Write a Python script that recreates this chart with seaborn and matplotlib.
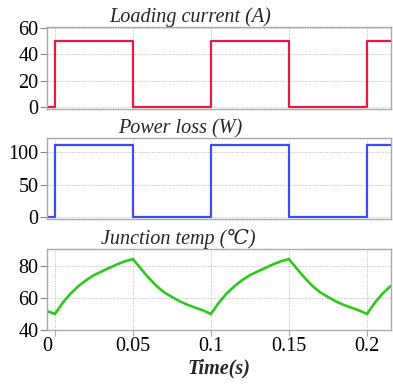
import matplotlib
matplotlib.use("Agg")
import matplotlib.pyplot as plt
import matplotlib.transforms as mtransforms
import seaborn as sns
import pandas as pd

# Switching waveform: load steps on/off every 50 ms
step_time = [-0.005, 0.0, 0.05, 0.10, 0.15, 0.20, 0.2154]
current_a = [0, 50, 0, 50, 0, 50, 50]
power_w = [0, 111, 0, 111, 0, 111, 111]

# Junction temperature samples (every 5 ms)
temp_time = [-0.005, 0.000, 0.005, 0.010, 0.015, 0.020, 0.025, 0.030, 0.035,
             0.040, 0.045, 0.050, 0.055, 0.060, 0.065, 0.070, 0.075, 0.080,
             0.085, 0.090, 0.095, 0.100, 0.105, 0.110, 0.115, 0.120, 0.125,
             0.130, 0.135, 0.140, 0.145, 0.150, 0.155, 0.160, 0.165, 0.170,
             0.175, 0.180, 0.185, 0.190, 0.195, 0.200, 0.205, 0.210, 0.215]
temp_c = [51.8, 50.0, 57.0, 62.7, 67.3, 71.1, 74.2, 76.5, 78.8,
          81.0, 82.9, 84.2, 78.3, 72.6, 67.5, 63.5, 60.6, 57.9,
          55.7, 53.9, 52.2, 50.0, 57.0, 62.7, 67.3, 71.1, 74.2,
          76.5, 78.8, 81.0, 82.9, 84.2, 78.3, 72.6, 67.5, 63.5,
          60.6, 57.9, 55.7, 53.9, 52.2, 50.0, 57.0, 62.7, 67.3]

x_ticks = [0.0, 0.05, 0.10, 0.15, 0.20]
x_tick_labels = ["0", "0.05", "0.1", "0.15", "0.2"]

titles = ["Loading current (A)", "Power loss (W)", "Junction temp (\u2103)"]

sns.set_style("white")
serif = ["Liberation Serif", "DejaVu Serif"]
plt.rcParams["font.family"] = serif

fig = plt.figure(figsize=(3.93, 3.92), dpi=100)
W, H = 393, 392
left, right = 47, 391
panels = [(27, 109), (138, 219), (249, 330)]
axes = []
for top, bottom in panels:
    ax = fig.add_axes([left / W, 1 - bottom / H, (right - left) / W, (bottom - top) / H])
    axes.append(ax)

step_df = pd.DataFrame({"t": step_time, "current": current_a, "power": power_w})
temp_df = pd.DataFrame({"t": temp_time, "temp": temp_c})

sns.lineplot(data=step_df, x="t", y="current", ax=axes[0], color="#e8183e",
             linewidth=1.6, drawstyle="steps-post")
sns.lineplot(data=step_df, x="t", y="power", ax=axes[1], color="#3a4cf5",
             linewidth=1.6, drawstyle="steps-post")
sns.lineplot(data=temp_df, x="t", y="temp", ax=axes[2], color="#2ec81e",
             linewidth=1.9)

ylims = [(-1.3, 60.5), (-2.6, 121), (40, 90.5)]
yticks = [[0, 20, 40, 60], [0, 50, 100], [40, 60, 80]]
title_x = [0.416, 0.386, 0.382]

for i, ax in enumerate(axes):
    ax.set_xlim(-0.0051, 0.2154)
    ax.set_ylim(*ylims[i])
    ax.set_yticks(yticks[i])
    ax.set_xticks(x_ticks)
    ax.set_xlabel("")
    ax.set_ylabel("")
    ax.grid(True, linestyle=(0, (1, 1.5)), color="#b8b8b8", linewidth=0.7)
    for s in ax.spines.values():
        s.set_color("#aaaaaa")
        s.set_linewidth(1.0)
    ax.tick_params(axis="y", which="both", left=True, length=5, width=0.8,
                   color="#888888", pad=1, labelsize=14.5, labelcolor="black")
    ax.tick_params(axis="x", bottom=(i == 2), length=4, width=0.8,
                   color="#aaaaaa", pad=1, labelsize=14.5, labelcolor="black")
    for lab in ax.get_yticklabels():
        lab.set_family(serif)
    ax.text(title_x[i], 1.0, titles[i], transform=ax.transAxes, ha="center",
            va="bottom", fontsize=14.5, style="italic", family=serif)
    if i < 2:
        ax.set_xticklabels([])
    else:
        ax.set_xticklabels(x_tick_labels)
        first = ax.get_xticklabels()[0]
        first.set_transform(first.get_transform() +
                            mtransforms.ScaledTranslation(-8 / 100, 0, fig.dpi_scale_trans))

axes[2].set_xlabel("Time(s)", fontsize=14.5, style="italic", fontweight="bold",
                   family=serif, labelpad=2)

fig.savefig("out.png", dpi=100)
